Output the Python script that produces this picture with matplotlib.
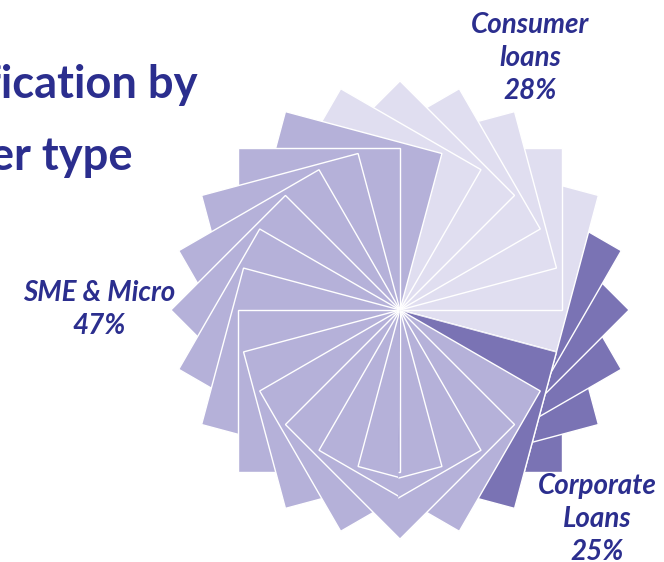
import numpy as np
import matplotlib.pyplot as plt
from matplotlib.patches import Polygon

# loan book split
categories = ["Consumer\nloans", "SME & Micro", "Corporate\nLoans"]
shares = [28, 47, 25]
colors = ["#e0def0", "#b5b1d9", "#7a73b4"]

# rotation (deg) of each square in the pinwheel, per category
corporate_angles = [270, 285, 300, 315, 330]
consumer_angles = [345, 0, 15, 30, 45, 60]
sme_angles = [75, 90, 105, 120, 135, 150, 165, 180, 195, 210, 225, 240, 255]

# lower right part folds back clockwise
fold_angles = [255, 240, 225, 210, 195, 180]
fold_cats = [2, 1, 1, 1, 1, 1]

CX, CY, SIDE = 400, 310, 162
TEXT = "#2b2e8e"


def square(phi):
    t = np.radians([phi, phi + 45, phi + 90])
    r = np.array([SIDE, SIDE * np.sqrt(2), SIDE])
    xs = CX + r * np.cos(t)
    ys = CY - r * np.sin(t)
    return [(CX, CY)] + list(zip(xs, ys))


def add_square(ax, phi, color, clip=None):
    p = Polygon(square(phi), closed=True, facecolor=color, edgecolor="white",
                linewidth=1.0, joinstyle="miter")
    ax.add_patch(p)
    if clip is not None:
        p.set_clip_path(clip)
    return p


fig = plt.figure(figsize=(6.64, 5.62), dpi=100)
ax = fig.add_axes([0, 0, 1, 1])
ax.set_xlim(0, 664)
ax.set_ylim(562, 0)
ax.axis("off")

# counter-clockwise fan, corporate first so SME ends on top
order = [(a, 2) for a in corporate_angles] + [(a, 0) for a in consumer_angles] + \
        [(a, 1) for a in sme_angles]
for phi, cat in order:
    add_square(ax, phi, colors[cat])

# wedge holding the clockwise part
wa = np.radians(np.linspace(269.5, 345, 30))
wedge_pts = [(CX, CY)] + list(zip(CX + 450 * np.cos(wa), CY - 450 * np.sin(wa)))
wedge = Polygon(wedge_pts, closed=True, facecolor="none", edgecolor="none",
                transform=ax.transData)
for phi, cat in zip(fold_angles, fold_cats):
    add_square(ax, phi, colors[cat], clip=wedge)

# title (runs off the left edge of the slide)
ax.text(197, 98, "Loan classification by", ha="right", va="baseline",
        fontsize=32.7, fontweight="bold", family="Lato", color=TEXT)
ax.text(133, 170, "borrower type", ha="right", va="baseline",
        fontsize=32.7, fontweight="bold", family="Lato", color=TEXT)

label_pos = [(530, 12), (99, 280), (597, 473)]
for name, val, (x, y) in zip(categories, shares, label_pos):
    ax.text(x, y, f"{name}\n{val}%", ha="center", va="top", ma="center",
            fontsize=20, fontweight="bold", style="italic", family="Lato",
            color=TEXT, linespacing=1.33)

fig.savefig("out.png", dpi=100)
